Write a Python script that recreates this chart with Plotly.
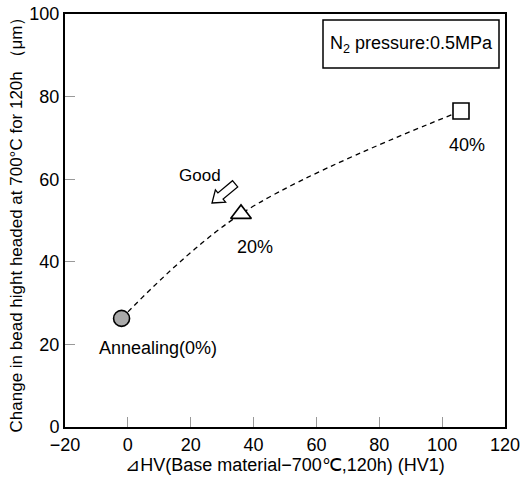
import plotly.graph_objects as go

# data
dhv = [-2, 36, 106]
bead = [26.3, 51.6, 76.5]
labels = ["Annealing(0%)", "20%", "40%"]
symbols = ["circle", "triangle-up", "square"]
fills = ["#aaaaaa", "white", "white"]

W, H = 521, 483
L, R, T, B = 65, 16, 14, 56
PW, PH = W - L - R, H - T - B

FONT = "Liberation Sans, Arial, sans-serif"

fig = go.Figure()
fig.add_trace(go.Scatter(x=dhv, y=bead, mode="lines", line=dict(shape="spline", dash="5px,4px", color="black", width=1.3),
                         hoverinfo="skip", showlegend=False))
for x, y, s, f in zip(dhv, bead, symbols, fills):
    fig.add_trace(go.Scatter(x=[x], y=[y], mode="markers",
                             marker=dict(symbol=s, size=16 if s != "triangle-up" else 18, color=f,
                                         line=dict(color="black", width=1.6)),
                             showlegend=False))

# point labels
offs = [(11.6, -7.2), (4.5, -8), (1.9, -8.2)]
for x, y, t, (dx, dy) in zip(dhv, bead, labels, offs):
    fig.add_annotation(x=x + dx, y=y + dy, text=t, showarrow=False, xanchor="center", yanchor="middle",
                       font=dict(size=18, family=FONT, color="black"))

fig.add_annotation(x=23, y=61, text="Good", showarrow=False, xanchor="center", yanchor="middle",
                   font=dict(size=17, family=FONT, color="black"))

# hollow arrow (window pixel -> paper)
pts = [(212, 203), (225.6, 202.2), (223.1, 199.1), (237.7, 186.9), (232.5, 180.7), (217.9, 192.9), (215.4, 189.8)]
def P(px, py):
    return (px - L) / PW, (H - B - py) / PH
path = "M " + " L ".join(f"{P(a, b)[0]:.4f},{P(a, b)[1]:.4f}" for a, b in pts) + " Z"
fig.add_shape(type="path", path=path, xref="paper", yref="paper", line=dict(color="black", width=1.3), fillcolor="white")

# legend box
x0, y0 = P(323, 68)
x1, y1 = P(499, 20)
fig.add_shape(type="rect", xref="paper", yref="paper", x0=x0, y0=y0, x1=x1, y1=y1,
              line=dict(color="black", width=1.5), fillcolor="white")
fig.add_annotation(xref="paper", yref="paper", x=(x0 + x1) / 2, y=(y0 + y1) / 2, xanchor="center", yanchor="middle",
                   text="N<sub>2</sub> pressure:0.5MPa", showarrow=False,
                   font=dict(size=18, family=FONT, color="black"))

axis_common = dict(showgrid=False, zeroline=False, ticks="inside", ticklen=10, tickcolor="#999999",
                   showline=True, linecolor="black", linewidth=2, mirror=True, automargin=False,
                   ticklabeloverflow="allow",
                   tickfont=dict(size=18, family=FONT, color="black"))
fig.update_xaxes(range=[-20, 120], dtick=20, **axis_common,
                 title=dict(text="⊿HV(Base material−700℃,120h) (HV1)", font=dict(size=18, family=FONT, color="black"), standoff=2))
fig.update_yaxes(range=[0, 100], dtick=20, **axis_common,
                 title=dict(text="Change in bead hight headed at 700°C for 120h （μm）", font=dict(size=17, family=FONT, color="black"), standoff=2))

fig.update_layout(width=W, height=H, margin=dict(l=L, r=R, t=T, b=B, autoexpand=False), plot_bgcolor="white", paper_bgcolor="white")
fig.write_html("out.html", config={"displayModeBar": False},
               post_script="document.body.style.margin='0';document.body.style.overflow='hidden';")
